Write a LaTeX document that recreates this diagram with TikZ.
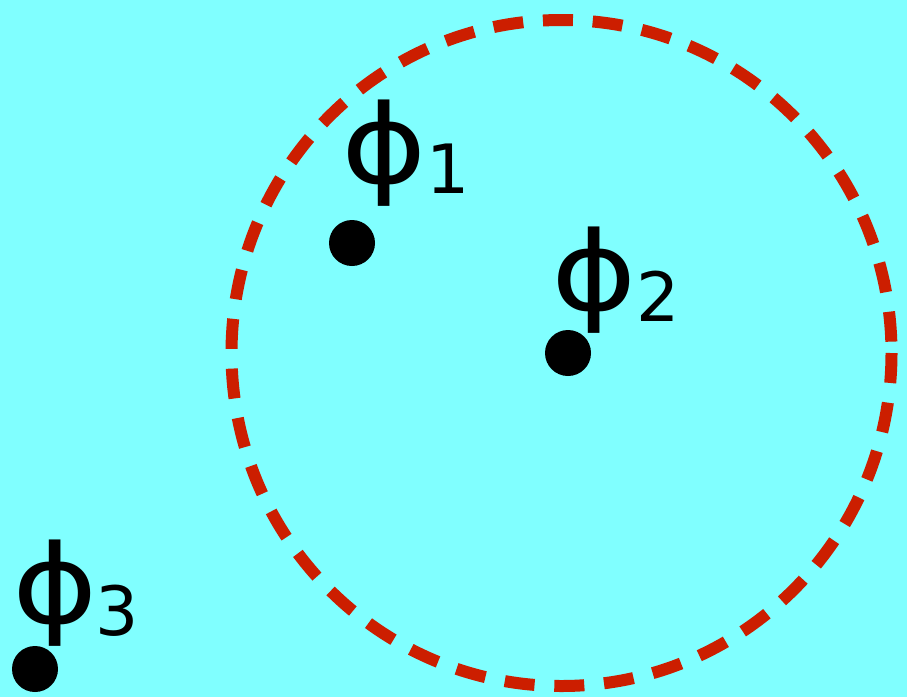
\documentclass[tikz,border=0pt]{standalone}
\usepackage{fontspec}
\usepackage{graphicx}
\setmainfont{DejaVu Sans}
\definecolor{bgcyan}{RGB}{128,255,255}
\definecolor{dashred}{RGB}{204,30,0}
\newcommand{\widephi}{\scalebox{1.18}[1]{ϕ}}
\tikzset{
  dot/.style={circle,fill=black,minimum size=46pt,inner sep=0pt},
  philabel/.style={inner sep=0pt,font=\fontsize{110}{110}\selectfont},
  sublabel/.style={inner sep=0pt,font=\fontsize{68}{68}\selectfont},
  ring/.style={draw=dashred,line width=12pt,dash pattern=on 30pt off 19.8pt}
}
\begin{document}
\begin{tikzpicture}[x=1pt,y=-1pt]
\fill[bgcyan] (0,0) rectangle (907,697);
\useasboundingbox (0,0) rectangle (907,697);
\coordinate (c) at (561.5,353);
\draw[ring] (c) ellipse [x radius=330, y radius=333];
\node[dot] (d1) at (352,243) {};
\node[dot] (d2) at (568,353) {};
\node[dot] (d3) at (35,669) {};
\node[philabel] (p1) at (384,153) {\widephi};
\node[sublabel] (s1) at (448,169) {1};
\node[philabel] (p2) at (594,280) {\widephi};
\node[sublabel] (s2) at (658,296) {2};
\node[philabel] (p3) at (55,593) {\widephi};
\node[sublabel] (s3) at (117,611) {3};
\end{tikzpicture}
\end{document}
